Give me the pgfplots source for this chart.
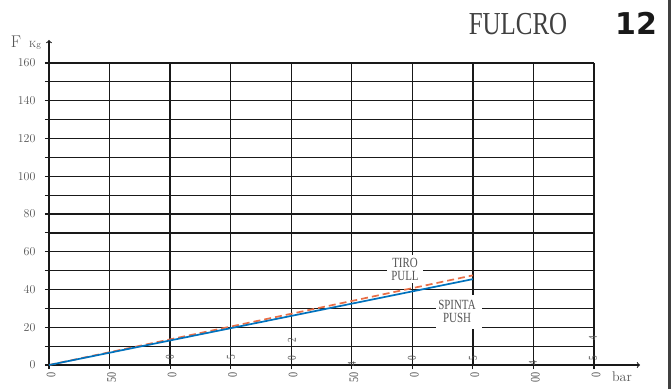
\documentclass[border=0pt]{standalone}
\usepackage{pgfplots}
\pgfplotsset{compat=1.18}
\usepackage{fontspec}
\newfontfamily\condserif[FakeStretch=0.78]{Liberation Serif}
\newfontfamily\boldsans{DejaVu Sans}
\definecolor{pushblue}{RGB}{0,114,189}
\definecolor{pullred}{RGB}{232,110,70}
\definecolor{txtgray}{RGB}{85,85,85}
\begin{document}
\begin{tikzpicture}[x=1pt,y=1pt]
\useasboundingbox (0,0) rectangle (672,389);
\fill[white] (0,0) rectangle (672,389);
\begin{axis}[
  at={(49pt,24pt)}, anchor=south west,
  scale only axis, width=545pt, height=302pt,
  xmin=0, xmax=4.5, ymin=0, ymax=160,
  clip=false,
  axis lines=left,
  axis line style={black!90, line width=1.1pt},
  x axis line style={-to, shorten >=-46pt},
  y axis line style={-to, shorten >=-23pt},
  xtick={0,0.5,1,1.5,2,2.5,3,3.5,4,4.5},
  xticklabels={0,50,0,0,0,50,0,0,00,0},
  ytick={0,10,...,160},
  yticklabels={0,,20,,40,,60,,80,,100,,120,,140,,160},
  tick align=outside,
  major tick length=4pt,
  tick style={black!90, line width=1.1pt},
  grid=major,
  major grid style={black!90, line width=1.25pt},
  yticklabel style={font=\fontsize{12}{13}\selectfont, text=txtgray, anchor=east, xshift=-6pt},
  xticklabel style={font=\condserif\fontsize{13}{14}\selectfont, text=txtgray, rotate=90, anchor=east, yshift=-2pt},
]
\addplot[pullred, line width=1.7pt, dash pattern=on 7pt off 4pt] coordinates {(0,0) (3.5,47.5)};
\addplot[pushblue, line width=1.7pt] coordinates {(0,0) (3.5,45.5)};
\end{axis}
% label boxes
\node[fill=white, minimum width=36pt, minimum height=28pt, inner sep=0pt] at (405,120) {};
\node[text=txtgray, font=\condserif\fontsize{14}{15}\selectfont] at (405,126) {TIRO};
\node[text=txtgray, font=\condserif\fontsize{14}{15}\selectfont] at (405,113) {PULL};
\node[fill=white, minimum width=46pt, minimum height=34pt, inner sep=0pt] at (459,77) {};
\node[text=txtgray, font=\condserif\fontsize{14}{15}\selectfont] at (457,84) {SPINTA};
\node[text=txtgray, font=\condserif\fontsize{14}{15}\selectfont] at (457,71) {PUSH};
% stray fragments
\foreach \xx/\yy/\tt in {170/32/0, 231/32/5, 292/31/0, 292/49/2, 352/25/4, 412/31/0, 473/31/5, 533/26/4, 593/31/5, 593/51/4}
  \node[rotate=90, text=txtgray, font=\condserif\fontsize{12}{13}\selectfont, inner sep=0pt] at (\xx,\yy) {\tt};
% axis titles
\node[text=txtgray, font=\fontsize{17}{18}\selectfont, anchor=base] at (16,341) {F};
\node[text=txtgray, font=\fontsize{9}{10}\selectfont, anchor=base] at (35,341) {Kg};
\node[text=txtgray, font=\fontsize{14}{15}\selectfont, anchor=base] at (622,8) {bar};
% title
\node[text=black!75, font=\condserif\fontsize{32}{34}\selectfont, anchor=base] at (518,354) {FULCRO};
\node[text=black!90, font=\boldsans\bfseries\fontsize{30}{32}\selectfont, anchor=base] at (636,354) {12};
\draw[black!75, line width=2.5pt] (669.5,0) -- (669.5,389);
\end{tikzpicture}
\end{document}
